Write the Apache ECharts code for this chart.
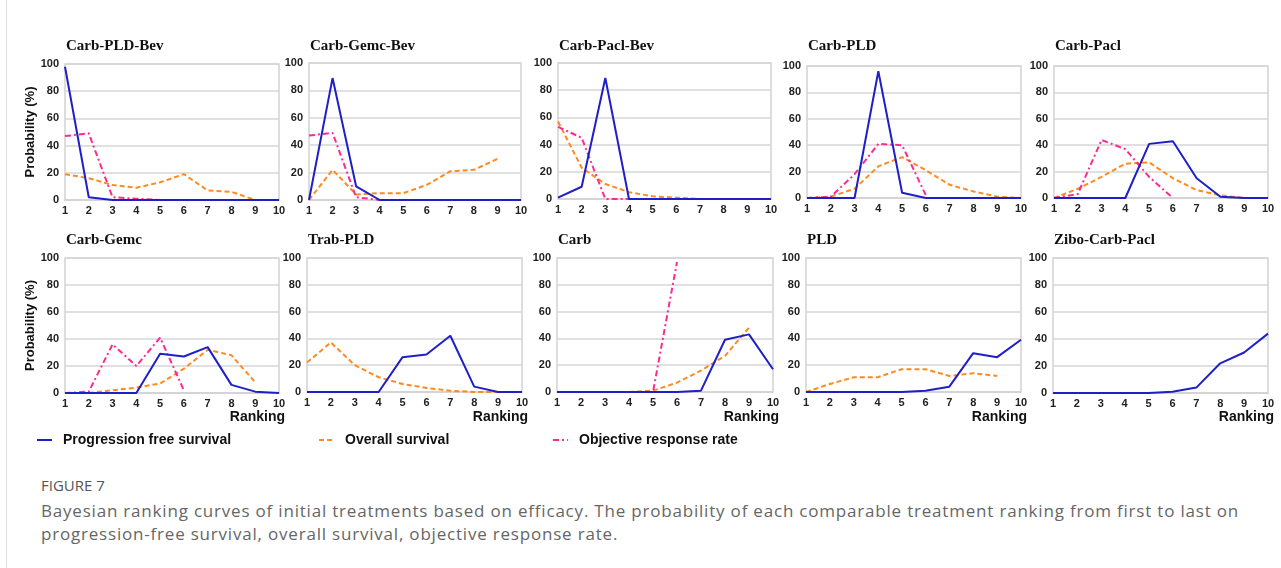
<!DOCTYPE html>
<html>
<head>
    <meta charset="utf-8">
    <title>Bayesian ranking curves</title>
    <script src="https://cdn.jsdelivr.net/npm/echarts@6/dist/echarts.min.js"></script>
    <style>
        body { margin: 0; background: #fff; }
        #frame { position: relative; width: 1281px; height: 568px; overflow: hidden; }
        #frame .edge { position: absolute; left: 6px; top: 0; width: 1px; height: 568px; background: #dcdcdc; }
        #chartShow { position: absolute; left: 0; top: 0; width: 1281px; height: 460px; }
        #caption { position: absolute; left: 41px; top: 475px; width: 1220px; font-family: "Open Sans", sans-serif; color: #666; }
        #caption .fig { font-size: 15px; color: #555; margin-bottom: 4px; }
        #caption .txt { font-size: 17px; line-height: 23px; letter-spacing: 0.8px; }
    </style>
</head>
<body>
<div id="frame">
    <div class="edge"></div>
    <div id="chartShow"></div>
    <div id="caption">
        <div class="fig">FIGURE 7</div>
        <div class="txt">Bayesian ranking curves of initial treatments based on efficacy. The probability of each comparable treatment ranking from first to last on progression-free survival, overall survival, objective response rate.</div>
    </div>
</div>
<script>
    var ranks = ['1', '2', '3', '4', '5', '6', '7', '8', '9', '10'];
    var treatments = ['Carb-PLD-Bev', 'Carb-Gemc-Bev', 'Carb-Pacl-Bev', 'Carb-PLD', 'Carb-Pacl',
        'Carb-Gemc', 'Trab-PLD', 'Carb', 'PLD', 'Zibo-Carb-Pacl'];
    var seriesNames = ['Progression free survival', 'Overall survival', 'Objective response rate'];

    // progression free survival, one list per treatment
    var pfs = [
        [98, 2, 0, 0, 0, 0, 0, 0, 0, 0],
        [0, 89, 10, 0, 0, 0, 0, 0, 0, 0],
        [1, 9, 89, 0, 0, 0, 0, 0, 0, 0],
        [0, 0, 0, 96, 4, 0, 0, 0, 0, 0],
        [0, 0, 0, 0, 41, 43, 15, 1, 0, 0],
        [0, 0, 0, 0, 29, 27, 34, 6, 1, 0],
        [0, 0, 0, 0, 26, 28, 42, 4, 0, 0],
        [0, 0, 0, 0, 0, 0, 1, 39, 43, 17],
        [0, 0, 0, 0, 0, 1, 4, 29, 26, 39],
        [0, 0, 0, 0, 0, 1, 4, 22, 30, 44]
    ];
    // overall survival
    var os = [
        [19, 16, 11, 9, 13, 19, 7, 6, 0],
        [0, 22, 4, 5, 5, 11, 21, 22, 30],
        [57, 23, 11, 5, 2, 1, 0, 0],
        [0, 1, 7, 24, 31, 21, 10, 5, 1, 0],
        [0, 7, 16, 26, 27, 15, 6, 2, 0],
        [0, 0, 2, 4, 7, 18, 32, 28, 8],
        [22, 37, 20, 11, 6, 3, 1, 0, 0],
        [0, 0, 0, 0, 1, 7, 16, 27, 48],
        [0, 6, 11, 11, 17, 17, 12, 14, 12],
        []
    ];
    // objective response rate
    var orr = [
        [47, 49, 2, 1, 0, 0],
        [47, 49, 2, 0, 0, 0],
        [53, 45, 0, 0, 0, 0],
        [0, 1, 18, 41, 40, 2],
        [0, 3, 44, 37, 16, 0],
        [0, 1, 36, 20, 41, 2],
        [],
        [0, 0, 0, 0, 0, 97],
        [],
        []
    ];

    var colors = ['#1f1fc8', '#ff8a1f', '#ff2a90'];
    var lineTypes = ['solid', [5, 3], [6, 3, 2, 3]];

    var grids = [
        {left: 65, top: 64, width: 214, height: 136},
        {left: 309, top: 63, width: 212, height: 137},
        {left: 558, top: 63, width: 213, height: 136},
        {left: 807, top: 66, width: 214, height: 132},
        {left: 1054, top: 66, width: 214, height: 132},
        {left: 65, top: 258, width: 214, height: 135},
        {left: 307, top: 258, width: 215, height: 134},
        {left: 557, top: 258, width: 216, height: 134},
        {left: 806, top: 258, width: 215, height: 134},
        {left: 1053, top: 258, width: 215, height: 135}
    ];

    var labelFont = {fontFamily: 'Arial, "Liberation Sans", sans-serif', fontWeight: 'bold', fontSize: 11, color: '#222'};
    var option = {
        animation: false,
        title: [],
        grid: [],
        xAxis: [],
        yAxis: [],
        series: [],
        legend: [],
        graphic: []
    };

    treatments.forEach(function (name, i) {
        var g = grids[i];
        option.grid.push({
            left: g.left, top: g.top, width: g.width, height: g.height,
            show: true, borderColor: '#d2d2d2', borderWidth: 1.5
        });
        option.title.push({
            text: name,
            left: g.left + 1,
            top: i < 5 ? 39 : 233,
            padding: 0,
            textStyle: {fontFamily: '"Liberation Serif", "Times New Roman", serif', fontWeight: 'bold', fontSize: 15, color: '#111'}
        });
        option.xAxis.push({
            type: 'category', gridIndex: i, data: ranks, boundaryGap: false,
            axisLine: {lineStyle: {color: '#d2d2d2', width: 1.5}},
            axisTick: {show: false},
            axisLabel: Object.assign({interval: 0, margin: 5}, labelFont),
            splitLine: {show: false}
        });
        var yAxis = {
            type: 'value', gridIndex: i, min: 0, max: 100, interval: 20,
            axisLine: {show: false},
            axisTick: {show: false},
            axisLabel: Object.assign({margin: 6}, labelFont),
            splitLine: {lineStyle: {color: '#d6d6d6', width: 1.5}}
        };
        if (i === 0 || i === 5) {
            yAxis.name = 'Probability (%)';
            yAxis.nameLocation = 'middle';
            yAxis.nameGap = 19;
            yAxis.nameTextStyle = {fontFamily: 'Arial, "Liberation Sans", sans-serif', fontWeight: 'bold', fontSize: 13, color: '#111'};
        }
        option.yAxis.push(yAxis);

        [os[i], orr[i], pfs[i]].forEach(function (vals, k) {
            var idx = [1, 2, 0][k];
            if (!vals.length) return;
            option.series.push({
                name: seriesNames[idx], type: 'line',
                xAxisIndex: i, yAxisIndex: i,
                data: vals, symbol: 'none',
                lineStyle: {color: colors[idx], width: 2, type: lineTypes[idx]},
                itemStyle: {color: colors[idx]}
            });
        });

        if (i >= 5) {
            option.graphic.push({
                type: 'text', right: 1281 - (g.left + g.width + 6), top: 410,
                style: {text: 'Ranking', font: 'bold 14px Arial, "Liberation Sans", sans-serif', fill: '#111'}
            });
        }
    });

    var legendLeft = [36, 318, 552];
    seriesNames.forEach(function (n, k) {
        option.legend.push({
            data: [n], left: legendLeft[k], top: 433, padding: 0,
            selectedMode: false, itemWidth: 15, itemHeight: 12,
            itemStyle: {opacity: 0},
            textStyle: {fontFamily: 'Arial, "Liberation Sans", sans-serif', fontWeight: 'bold', fontSize: 14, color: '#111', padding: [0, 0, 0, 6]}
        });
    });

    var chart = echarts.init(document.getElementById('chartShow'));
    chart.setOption(option);
</script>
</body>
</html>
